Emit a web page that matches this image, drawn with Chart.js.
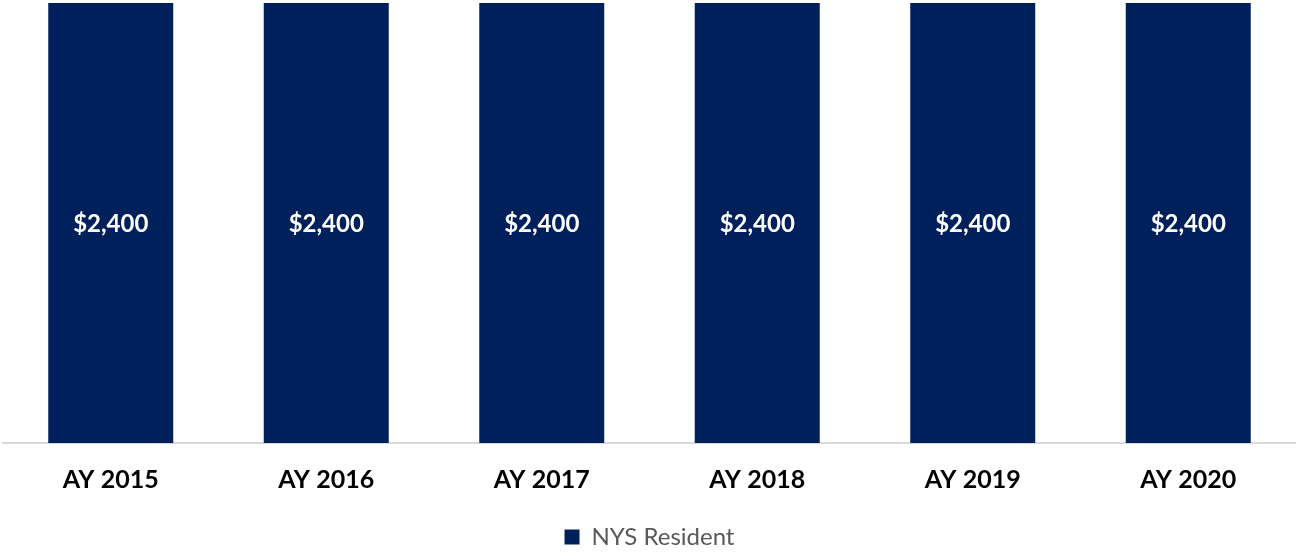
<!DOCTYPE html>
<html>
<head>
<meta charset="utf-8">
<script src="https://cdn.jsdelivr.net/npm/chart.js@4/dist/chart.umd.min.js"></script>
<style>
  html, body { margin: 0; padding: 0; background: #fff; }
  #wrap { width: 1296px; height: 552px; }
</style>
</head>
<body>
<div id="wrap"><canvas id="myChart" width="1296" height="552"></canvas></div>
<script>
// chart data
var years = ['AY 2015', 'AY 2016', 'AY 2017', 'AY 2018', 'AY 2019', 'AY 2020'];
var nysResident = [2400, 2400, 2400, 2400, 2400, 2400];
var seriesName = 'NYS Resident';

// value labels inside the bars
var barLabels = {
  id: 'barLabels',
  afterDatasetsDraw: function (chart) {
    var ctx = chart.ctx;
    var meta = chart.getDatasetMeta(0);
    ctx.save();
    ctx.fillStyle = '#ffffff';
    ctx.font = 'bold 24px Lato';
    ctx.textAlign = 'center';
    ctx.textBaseline = 'middle';
    meta.data.forEach(function (bar, i) {
      var v = chart.data.datasets[0].data[i];
      ctx.fillText('$' + v.toLocaleString('en-US'), bar.x, 224);
    });
    ctx.restore();
  }
};

var ctx = document.getElementById('myChart').getContext('2d');
var chart = new Chart(ctx, {
  type: 'bar',
  data: {
    labels: years,
    datasets: [{
      label: seriesName,
      data: nysResident,
      backgroundColor: '#00205b',
      borderWidth: 0,
      categoryPercentage: 1,
      barPercentage: 0.58
    }]
  },
  options: {
    responsive: false,
    animation: false,
    layout: { padding: { left: 3, right: 0, top: 3, bottom: -7 } },
    plugins: {
      legend: {
        position: 'bottom',
        labels: {
          boxWidth: 15,
          boxHeight: 15,
          padding: 8,
          color: '#595959',
          font: { family: 'Lato', size: 24, lineHeight: 1 }
        }
      },
      tooltip: { enabled: false }
    },
    scales: {
      x: {
        grid: { display: false, drawTicks: false },
        border: { color: '#d9d9d9', width: 2 },
        ticks: {
          color: '#000000',
          padding: 22,
          font: { family: 'Lato', size: 25, weight: 'bold' }
        }
      },
      y: {
        display: false,
        min: 0,
        max: 2400
      }
    }
  },
  plugins: [barLabels]
});
</script>
</body>
</html>
